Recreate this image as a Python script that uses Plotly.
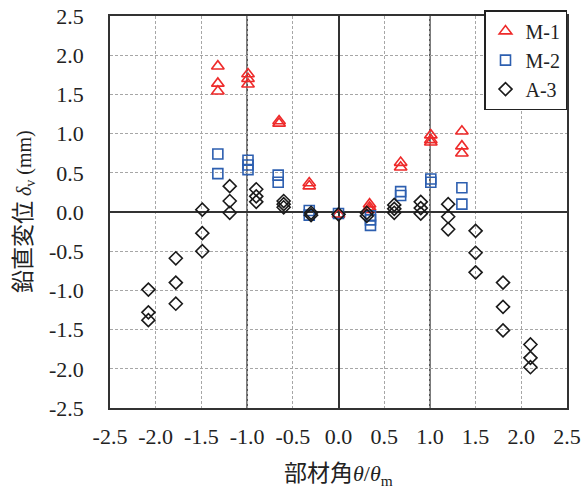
import plotly.graph_objects as go

# ---- data ----
m1_x = [-1.32, -1.32, -1.32, -0.99, -0.99, -0.99, -0.65, -0.65, -0.32, -0.32, 0.0,
        0.34, 0.34, 0.34, 0.68, 0.68, 1.01, 1.01, 1.01, 1.35, 1.35, 1.35]
m1_y = [1.86, 1.64, 1.54, 1.76, 1.70, 1.63, 1.16, 1.13, 0.37, 0.33, -0.03,
        0.10, 0.06, 0.03, 0.63, 0.57, 0.98, 0.92, 0.89, 1.03, 0.84, 0.75]

m2_x = [-1.32, -1.32, -0.99, -0.99, -0.99, -0.66, -0.66, -0.32, -0.32, 0.0,
        0.35, 0.35, 0.35, 0.68, 0.68, 1.01, 1.01, 1.35, 1.35]
m2_y = [0.74, 0.49, 0.66, 0.60, 0.54, 0.47, 0.38, 0.02, -0.04, -0.02,
        -0.05, -0.10, -0.17, 0.26, 0.21, 0.42, 0.38, 0.31, 0.10]

a3_x = [-2.08, -2.08, -2.08, -1.78, -1.78, -1.78, -1.49, -1.49, -1.49,
        -1.19, -1.19, -1.19, -0.90, -0.90, -0.90, -0.60, -0.60, -0.60,
        -0.30, -0.30, 0.0, 0.31, 0.31, 0.61, 0.61, 0.61, 0.90, 0.90, 0.90,
        1.20, 1.20, 1.20, 1.50, 1.50, 1.50, 1.80, 1.80, 1.80, 2.10, 2.10, 2.10]
a3_y = [-0.99, -1.28, -1.38, -0.59, -0.90, -1.17, 0.03, -0.27, -0.50,
        0.33, 0.14, -0.01, 0.29, 0.20, 0.13, 0.14, 0.10, 0.06,
        -0.01, -0.04, -0.03, -0.01, -0.05, 0.09, 0.04, -0.01, 0.13, 0.05, -0.02,
        0.10, -0.06, -0.22, -0.24, -0.52, -0.77, -0.90, -1.21, -1.51, -1.69, -1.86, -1.98]

series_names = ["M-1", "M-2", "A-3"]
tick_vals = [-2.5, -2.0, -1.5, -1.0, -0.5, 0.0, 0.5, 1.0, 1.5, 2.0, 2.5]
tick_text = [f"{v:.1f}" for v in tick_vals]

FONT = "Liberation Serif, DejaVu Serif, serif"
CJK = "Noto Sans CJK JP"
RED = "#ee2a2a"
BLUE = "#2d5fb0"
BLACK = "#1a1a1a"
TXT = "#222222"

fig = go.Figure()
fig.add_trace(go.Scatter(x=m1_x, y=m1_y, mode="markers", name=series_names[0],
                         marker=dict(symbol="triangle-up-open", size=11, color=RED,
                                     line=dict(width=1.6, color=RED))))
fig.add_trace(go.Scatter(x=m2_x, y=m2_y, mode="markers", name=series_names[1],
                         marker=dict(symbol="square-open", size=10, color=BLUE,
                                     line=dict(width=1.6, color=BLUE))))
fig.add_trace(go.Scatter(x=a3_x, y=a3_y, mode="markers", name=series_names[2],
                         marker=dict(symbol="diamond-open", size=10, color=BLACK,
                                     line=dict(width=1.6, color=BLACK))))

# solid reference lines at x = -1, 1
for xv in (-1.0, 1.0):
    fig.add_shape(type="line", xref="x", yref="paper", x0=xv, x1=xv, y0=0, y1=1,
                  line=dict(color="#333333", width=1.5), layer="between")

axis_common = dict(
    range=[-2.5, 2.5], tickvals=tick_vals, ticktext=tick_text,
    showgrid=True, gridcolor="#a6a6a6", gridwidth=1, griddash="3px,2px",
    zeroline=True, zerolinecolor="#333333", zerolinewidth=1.5,
    showline=True, linecolor="#333333", linewidth=1.5, mirror=True,
    ticks="", tickfont=dict(family=FONT, size=22, color=TXT),
    automargin=False,
)

fig.update_layout(
    width=581, height=490,
    margin=dict(l=110, r=14, t=16, b=82, autoexpand=False),
    paper_bgcolor="white", plot_bgcolor="white",
    xaxis=dict(**axis_common, ticklabelstandoff=8),
    yaxis=dict(**axis_common, ticklabelstandoff=20),
    showlegend=True,
    legend=dict(x=1.0, xanchor="right", y=1.015, yanchor="top",
                bgcolor="white", bordercolor=TXT, borderwidth=1.5,
                font=dict(family=FONT, size=20, color=TXT),
                itemwidth=30, tracegroupgap=0),
    annotations=[
        dict(text=f"<span style='font-family:{CJK};font-size:23px'>部材角</span><i>θ</i>/<i>θ</i><sub>m</sub>",
             xref="paper", yref="paper", x=0.5, y=0, yshift=-63, xanchor="center", yanchor="middle",
             showarrow=False, font=dict(family=FONT, size=22, color=TXT)),
        dict(text=f"<span style='font-family:{CJK};font-size:23px'>鉛直変位</span> <i>δ</i><sub>v</sub> (mm)",
             xref="paper", yref="paper", x=0, xshift=-89, y=0.5,
             xanchor="center", yanchor="middle", textangle=-90,
             showarrow=False, font=dict(family=FONT, size=20, color=TXT)),
    ],
)

fig.write_html("out.html")
